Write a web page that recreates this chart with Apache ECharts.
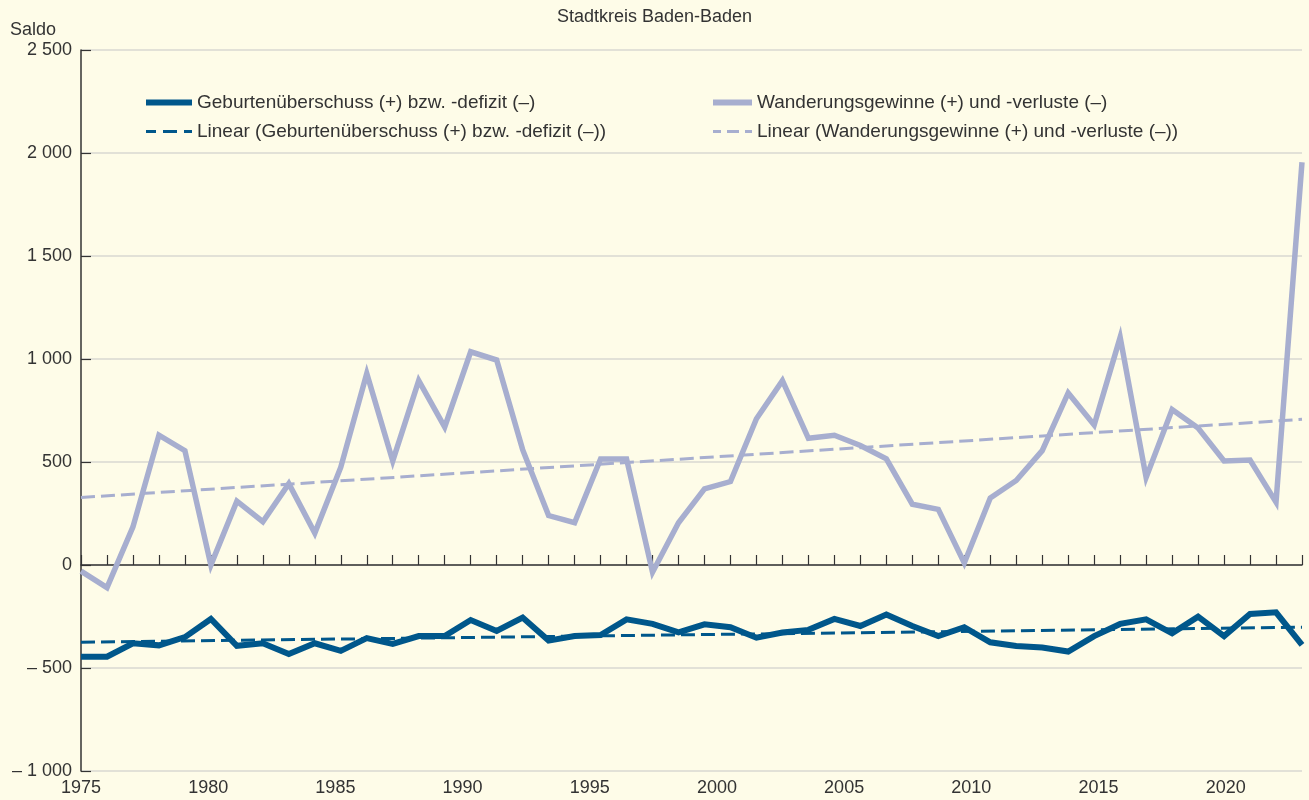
<!DOCTYPE html>
<html>
<head>
<meta charset="utf-8">
<script src="https://cdn.jsdelivr.net/npm/echarts@6/dist/echarts.min.js"></script>
<style>
  html, body { margin: 0; padding: 0; background: #fefce8; }
  #chart { width: 1309px; height: 800px; }
</style>
</head>
<body>
<div id="chart"></div>
<script>
// Jahre 1975 - 2022
const years = [];
for (let y = 1975; y <= 2022; y++) years.push(y);

// Geburtenüberschuss (+) bzw. -defizit (–)
const geburten = [
  -445, -445, -380, -390, -350, -262, -392, -380, -432, -380,
  -417, -355, -383, -345, -345, -267, -320, -255, -367, -345,
  -340, -264, -286, -327, -288, -302, -353, -328, -315, -262,
  -296, -240, -296, -345, -302, -375, -393, -401, -420, -345,
  -286, -264, -332, -251, -345, -238, -230, -388
];

// Wanderungsgewinne (+) und -verluste (–)
const wanderung = [
  -30, -110, 185, 630, 555, 0, 310, 210, 395, 155,
  475, 930, 505, 895, 670, 1035, 995, 560, 240, 205,
  515, 515, -35, 205, 370, 405, 710, 895, 615, 630,
  580, 515, 295, 270, 10, 325, 410, 555, 835, 680,
  1105, 425, 755, 665, 505, 510, 305, 1955
];

// Trendlinien (Anfangs- und Endwert)
const trendYears = [1975, 2022];
const trendGeburten = [-375, -302];
const trendWanderung = [328, 707];

const yTicks = [-1000, -500, 0, 500, 1000, 1500, 2000, 2500];

const nameG = 'Geburtenüberschuss (+) bzw. -defizit (–)';
const nameGL = 'Linear (Geburtenüberschuss (+) bzw. -defizit (–))';
const nameW = 'Wanderungsgewinne (+) und -verluste (–)';
const nameWL = 'Linear (Wanderungsgewinne (+) und -verluste (–))';

const colG = '#00578b';
const colW = '#a7aecf';
const txt = '#333333';
const font = '"Liberation Sans", Arial, sans-serif';

const pairs = (xs, ys) => xs.map((x, i) => [x, ys[i]]);

function fmtY(v) {
  const a = Math.abs(v);
  let s = a >= 1000 ? Math.floor(a / 1000) + ' ' + String(a % 1000).padStart(3, '0') : String(a);
  return v < 0 ? '– ' + s : s;
}

const myChart = echarts.init(document.getElementById('chart'));
myChart.setOption({
  backgroundColor: '#fefce8',
  animation: false,
  textStyle: { fontFamily: font },
  title: [
    {
      text: 'Stadtkreis Baden-Baden',
      left: 'center',
      top: 3,
      textStyle: { fontSize: 18, fontWeight: 'normal', color: txt, fontFamily: font }
    },
    {
      text: 'Saldo',
      left: 5,
      top: 16,
      textStyle: { fontSize: 18, fontWeight: 'normal', color: txt, fontFamily: font }
    }
  ],
  legend: [
    {
      orient: 'vertical',
      left: 138,
      top: 88,
      itemWidth: 46,
      itemHeight: 14,
      itemGap: 10,
      itemStyle: { opacity: 0 },
      data: [
        { name: nameG, lineStyle: { width: 6 } },
        { name: nameGL, lineStyle: { width: 3, type: [10, 7, 14, 7] } }
      ],
      textStyle: { fontSize: 19, color: txt, fontFamily: font }
    },
    {
      orient: 'vertical',
      left: 705,
      top: 88,
      itemWidth: 39,
      itemHeight: 14,
      itemGap: 10,
      itemStyle: { opacity: 0 },
      data: [
        { name: nameW, lineStyle: { width: 6 } },
        { name: nameWL, lineStyle: { width: 3, type: [8, 6, 12, 6] } }
      ],
      textStyle: { fontSize: 19, color: txt, fontFamily: font }
    }
  ],
  grid: { left: 81, right: 7, top: 50, bottom: 29, containLabel: false },
  xAxis: [
    {
      // Jahresachse auf der Nulllinie mit Strichen nach oben
      type: 'value',
      position: 'top',
      min: 1975,
      max: 2022,
      interval: 1,
      axisLine: { onZero: true, lineStyle: { color: txt, width: 1.5 } },
      axisTick: { show: true, inside: false, length: 10, lineStyle: { color: txt, width: 1.2 } },
      axisLabel: { show: false },
      splitLine: { show: false }
    },
    {
      // Beschriftung unten
      type: 'value',
      position: 'bottom',
      min: 1975,
      max: 2023,
      interval: 5,
      axisLine: { show: false, onZero: false },
      axisTick: { show: false },
      splitLine: { show: false },
      axisLabel: {
        margin: 8,
        fontSize: 18,
        color: txt,
        fontFamily: font,
        formatter: v => (v % 5 === 0 ? String(v) : '')
      }
    }
  ],
  yAxis: {
    type: 'value',
    min: yTicks[0],
    max: yTicks[yTicks.length - 1],
    interval: 500,
    axisLine: { show: true, lineStyle: { color: txt, width: 1.5 } },
    axisTick: { show: true, inside: true, length: 10, lineStyle: { color: txt, width: 1.2 } },
    axisLabel: { margin: 9, fontSize: 18, color: txt, fontFamily: font, formatter: fmtY },
    splitLine: { show: true, lineStyle: { color: '#d9d9d2', width: 1.5 } }
  },
  series: [
    {
      name: nameW,
      type: 'line',
      xAxisIndex: 0,
      symbol: 'none',
      data: pairs(years, wanderung),
      lineStyle: { color: colW, width: 5.5, join: 'miter' },
      itemStyle: { color: colW }
    },
    {
      name: nameWL,
      type: 'line',
      xAxisIndex: 0,
      symbol: 'none',
      data: pairs(trendYears, trendWanderung),
      lineStyle: { color: colW, width: 3, type: [14, 6] },
      itemStyle: { color: colW }
    },
    {
      name: nameG,
      type: 'line',
      xAxisIndex: 0,
      symbol: 'none',
      data: pairs(years, geburten),
      lineStyle: { color: colG, width: 6, join: 'miter' },
      itemStyle: { color: colG }
    },
    {
      name: nameGL,
      type: 'line',
      xAxisIndex: 0,
      symbol: 'none',
      data: pairs(trendYears, trendGeburten),
      lineStyle: { color: colG, width: 3, type: [14, 6] },
      itemStyle: { color: colG }
    }
  ]
});
</script>
</body>
</html>
